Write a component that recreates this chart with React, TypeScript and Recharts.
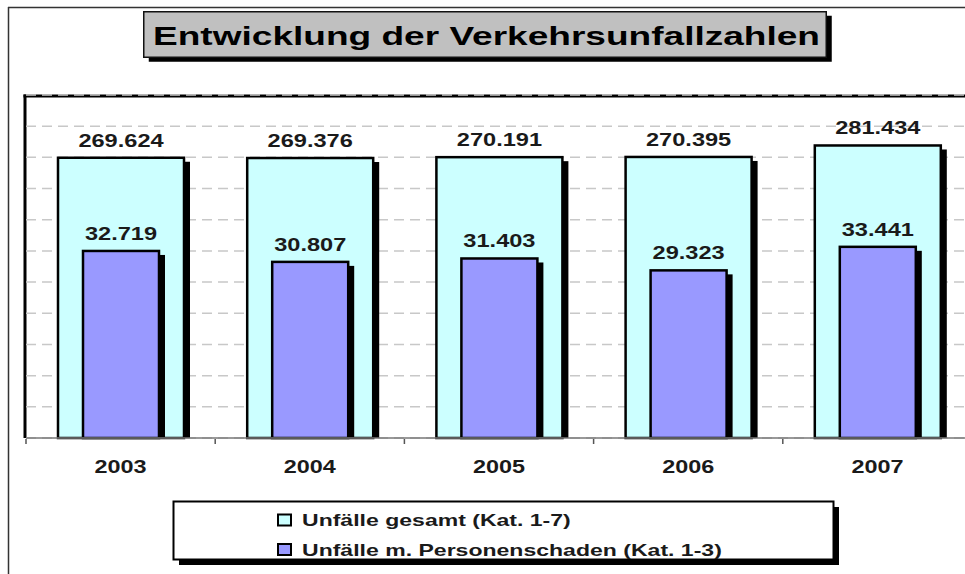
import React from 'react';
import { BarChart, Bar, XAxis, YAxis, CartesianGrid, LabelList, Legend } from 'recharts';

const years = ['2003', '2004', '2005', '2006', '2007'];
const gesamt = [269624, 269376, 270191, 270395, 281434];
const personen = [32719, 30807, 31403, 29323, 33441];
const gesamtTicks = [0, 30000, 60000, 90000, 120000, 150000, 180000, 210000, 240000, 270000, 300000, 330000];
const personenDomain = [0, 60000];
const seriesNames = ['Unfälle gesamt (Kat. 1-7)', 'Unfälle m. Personenschaden (Kat. 1-3)'];
const seriesColors = ['#CCFFFF', '#9999FF'];
const title = 'Entwicklung der Verkehrsunfallzahlen';

const data = years.map((y, i) => ({ year: y, gesamt: gesamt[i], personen: personen[i] }));

const FONT = '"Liberation Sans", Arial, sans-serif';

const fmt = (v: number) => String(v).replace(/\B(?=(\d{3})+(?!\d))/g, '.');

const ShadowBar = (props: any) => {
  const x = Number(props.x), y = Number(props.y), width = Number(props.width), height = Number(props.height);
  if (!(height > 0)) return null;
  return (
    <g>
      <rect x={x + 6} y={y + 4} width={width} height={height - 4} fill="#000" />
      <rect x={x} y={y} width={width} height={height} fill={props.fill} stroke="#000" strokeWidth={2.5} />
    </g>
  );
};

const ValueLabel = (props: any) => {
  const x = Number(props.x), y = Number(props.y), width = Number(props.width);
  const cx = x + width / 2;
  return (
    <text
      transform={`translate(${cx},${y - 11}) scale(1.31,1)`}
      textAnchor="middle"
      fontFamily={FONT}
      fontWeight="bold"
      fontSize={18}
      fill="#1a1a1a"
    >
      {fmt(Number(props.value))}
    </text>
  );
};

const YearTick = (props: any) => {
  const { x, y, payload, index } = props;
  const off = Number(payload && payload.offset) || 0;
  const ax = Number(x), ay = Number(y);
  return (
    <g>
      {off > 0 && <line x1={ax - off} y1={ay + 1} x2={ax - off} y2={ay + 6} stroke="#555" strokeWidth={1.5} />}
      {off > 0 && index === years.length - 1 && (
        <line x1={ax + off} y1={ay + 1} x2={ax + off} y2={ay + 6} stroke="#555" strokeWidth={1.5} />
      )}
      <text
        transform={`translate(${ax},${ay + 35}) scale(1.3,1)`}
        textAnchor="middle"
        fontFamily={FONT}
        fontWeight="bold"
        fontSize={18}
        fill="#1a1a1a"
      >
        {payload.value}
      </text>
    </g>
  );
};

const LegendBox = (props: any) => {
  const payload = props.payload || [];
  const rows = [20, 49.5];
  return (
    <svg width={672} height={70} style={{ display: 'block', overflow: 'visible' }}>
      <rect x={7} y={7} width={660} height={58} fill="#000" />
      <rect x={1.5} y={1.5} width={660} height={58} fill="#fff" stroke="#000" strokeWidth={2} />
      {payload.map((p: any, i: number) => (
        <g key={i}>
          <rect x={106} y={rows[i] - 5.5} width={13} height={11} fill={p.color} stroke="#000" strokeWidth={2} />
          <text
            transform={`translate(130,${rows[i] + 6}) scale(1.44,1)`}
            fontFamily={FONT}
            fontWeight="bold"
            fontSize={16}
            fill="#1a1a1a"
          >
            {p.value}
          </text>
        </g>
      ))}
    </svg>
  );
};

export default function App() {
  return (
    <div style={{ position: 'absolute', left: 0, top: 0, width: 965, height: 574, overflow: 'hidden', background: '#fff' }}>
      <svg width={965} height={574} style={{ position: 'absolute', left: 0, top: 0 }}>
        <line x1={8} y1={7.5} x2={965} y2={7.5} stroke="#333" strokeWidth={1.5} />
        <line x1={8.5} y1={7} x2={8.5} y2={574} stroke="#333" strokeWidth={1.5} />
        <line x1={23.5} y1={96} x2={965} y2={96} stroke="#000" strokeWidth={3} />
        <line x1={25} y1={94.5} x2={25} y2={438} stroke="#000" strokeWidth={3} />
      </svg>
      <div style={{ position: 'absolute', left: 0, top: 0 }}>
        <BarChart width={990} height={574} data={data} margin={{ top: 95, right: 18, bottom: 135, left: 26 }}>
          <CartesianGrid xAxisId="a" yAxisId="a" vertical={false} stroke="#c8c8c8" strokeWidth={1.5} strokeDasharray="10 6" />
          <XAxis
            xAxisId="a"
            dataKey="year"
            interval={0}
            axisLine={{ stroke: '#777', strokeWidth: 1.5 }}
            tickLine={false}
            tickSize={0}
            tickMargin={0}
            tick={YearTick}
            height={1}
          />
          <XAxis xAxisId="b" dataKey="year" hide />
          <YAxis yAxisId="a" hide domain={[0, 330000]} ticks={gesamtTicks} />
          <YAxis yAxisId="b" hide domain={personenDomain} />
          <Legend
            layout="horizontal"
            verticalAlign="middle"
            align="center"
            wrapperStyle={{ left: 172, top: 500, width: 672, height: 70 }}
            content={LegendBox}
          />
          <Bar
            xAxisId="a"
            yAxisId="a"
            dataKey="gesamt"
            name={seriesNames[0]}
            fill={seriesColors[0]}
            barSize={126}
            shape={ShadowBar}
            isAnimationActive={false}
          >
            <LabelList dataKey="gesamt" content={ValueLabel} />
          </Bar>
          <Bar
            xAxisId="b"
            yAxisId="b"
            dataKey="personen"
            name={seriesNames[1]}
            fill={seriesColors[1]}
            barSize={76}
            shape={ShadowBar}
            isAnimationActive={false}
          >
            <LabelList dataKey="personen" content={ValueLabel} />
          </Bar>
        </BarChart>
      </div>
      <svg width={965} height={70} style={{ position: 'absolute', left: 0, top: 0, pointerEvents: 'none' }}>
        <rect x={148.75} y={15.75} width={683} height={46} fill="#000" />
        <rect x={143.75} y={11.75} width={682.5} height={45.5} fill="#C0C0C0" stroke="#111" strokeWidth={1.5} />
        <text
          x={153}
          y={45}
          textLength={667}
          lengthAdjust="spacingAndGlyphs"
          fontFamily={FONT}
          fontWeight="bold"
          fontSize={25}
          fill="#000"
        >
          {title}
        </text>
      </svg>
    </div>
  );
}
